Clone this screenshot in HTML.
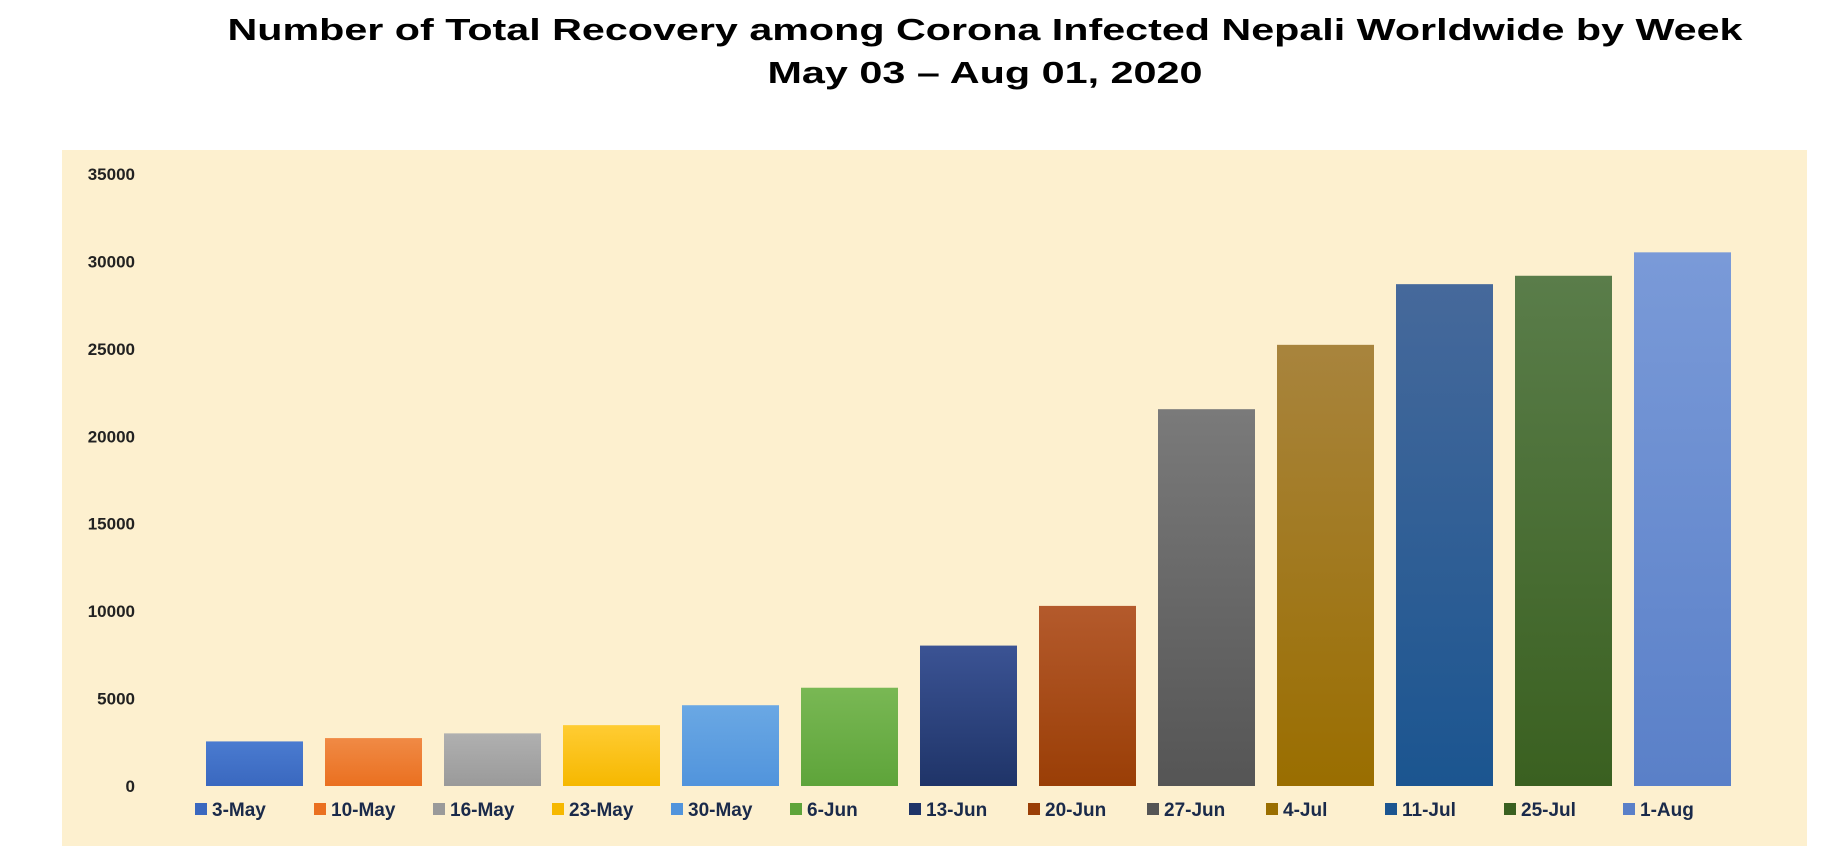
<!DOCTYPE html>
<html><head><meta charset="utf-8"><style>
html,body{margin:0;padding:0;background:#fff;}
svg{display:block;font-family:"Liberation Sans",sans-serif;}
</style></head><body>
<svg id="chart" width="1835" height="846" viewBox="0 0 1835 846" xmlns="http://www.w3.org/2000/svg">
<defs id="defs"></defs>
<rect x="62" y="150" width="1745" height="696" fill="#fdf0cf"/>
<text x="985" y="40" text-anchor="middle" font-size="31" font-weight="bold" textLength="1515" lengthAdjust="spacingAndGlyphs">Number of Total Recovery among Corona Infected Nepali Worldwide by Week</text>
<text x="985" y="83" text-anchor="middle" font-size="31" font-weight="bold" textLength="435" lengthAdjust="spacingAndGlyphs">May 03 – Aug 01, 2020</text>
<g id="yaxis"></g>
<g id="bars"></g>
<g id="legend"></g>
</svg>
<script>
const categories=["3-May","10-May","16-May","23-May","30-May","6-Jun","13-Jun","20-Jun","27-Jun","4-Jul","11-Jul","25-Jul","1-Aug"];
const values=[2550,2740,3010,3480,4620,5620,8030,10300,21550,25230,28700,29180,30520];
const yTicks=[0,5000,10000,15000,20000,25000,30000,35000];
const colorsTop=["#4a7bd0","#f08a45","#b0b0b0","#ffcc33","#6aa8e4","#79b854","#3b5394","#b45a2c","#7a7a7a","#a8843d","#46699b","#5a7d4a","#7a9ad8"];
const colorsBot=["#3a68bf","#ea7020","#9a9a9a","#f6b800","#5194dc","#5ea43a","#1f3468","#9a3e06","#555555","#9a6e00","#1b5590","#3a6020","#5a80c8"];
const NS="http://www.w3.org/2000/svg";
const y0=786,yTop=174,yMax=35000;
function yScale(v){return y0-(v/yMax)*(y0-yTop);}
function xBar(i){return 206+i*119;}
const barW=97;
const svg=document.getElementById('chart');
const defs=document.getElementById('defs');
function mk(t,a){const e=document.createElementNS(NS,t);for(const k in a)e.setAttribute(k,a[k]);return e;}
yTicks.forEach(v=>{
  const t=mk('text',{x:135,y:yScale(v)+6,'text-anchor':'end','font-size':'17','font-weight':'bold',fill:'#222'});
  
  
  t.textContent=v;document.getElementById('yaxis').appendChild(t);
});
categories.forEach((c,i)=>{
  const g=mk('linearGradient',{id:'g'+i,x1:0,y1:0,x2:0,y2:1});
  g.appendChild(mk('stop',{offset:'0','stop-color':colorsTop[i]}));
  g.appendChild(mk('stop',{offset:'1','stop-color':colorsBot[i]}));
  defs.appendChild(g);
  const r=mk('rect',{x:xBar(i),y:yScale(values[i]),width:barW,height:y0-yScale(values[i]),fill:'url(#g'+i+')'});
  
  
  document.getElementById('bars').appendChild(r);
  const lx=195+i*119;
  const sq=mk('rect',{x:lx,y:803,width:12,height:12,fill:colorsBot[i]});
  
  
  document.getElementById('legend').appendChild(sq);
  const t=mk('text',{x:lx+17,y:816,'font-size':'19','font-weight':'bold',fill:'#1a2a4a'});
  
  
  t.textContent=c;document.getElementById('legend').appendChild(t);
});
</script>
</body></html>
